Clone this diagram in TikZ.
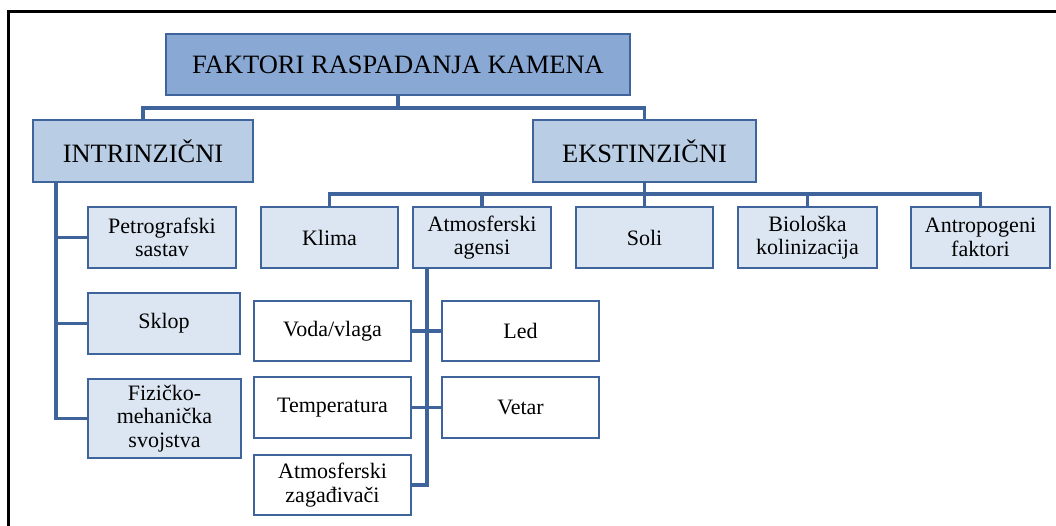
\documentclass[tikz,border=0pt]{standalone}
\usepackage{fontspec}
\setmainfont{Liberation Serif}
\definecolor{bordc}{RGB}{62,100,155}
\definecolor{lvlone}{RGB}{137,168,212}
\definecolor{lvltwo}{RGB}{185,205,229}
\definecolor{lvlthree}{RGB}{220,230,242}
\tikzset{
  box/.style={draw=bordc, line width=2.8pt, align=center, inner sep=0pt, text=black},
  topbox/.style={box, fill=lvlone, font=\fontsize{26.5}{28}\selectfont},
  secbox/.style={box, fill=lvltwo, font=\fontsize{26.5}{28}\selectfont},
  thrbox/.style={box, fill=lvlthree, font=\fontsize{22}{23.5}\selectfont},
  fourbox/.style={box, fill=white, font=\fontsize{22}{23.5}\selectfont},
  conn/.style={draw=bordc, line width=3.2pt},
  frameline/.style={draw=black, line width=3pt}
}
\begin{document}
\begin{tikzpicture}[x=1pt,y=-1pt]
\useasboundingbox (0,0) rectangle (1056,526);
\fill[white] (0,0) rectangle (1056,526);
\draw[frameline] (8,526) -- (8,12) -- (1056,12);

% level 1
\node[topbox, minimum width=464pt, minimum height=61pt] (top) at (398,64.5) {FAKTORI RASPADANJA KAMENA};
% level 2
\node[secbox, minimum width=220pt, minimum height=62pt] (intr) at (143,151) {INTRINZIČNI};
\node[secbox, minimum width=223pt, minimum height=62pt] (ekst) at (644.5,151) {EKSTINZIČNI};
% intrinsic children
\node[thrbox, minimum width=148pt, minimum height=61pt] (petro) at (162,237.5) {Petrografski\\sastav};
\node[thrbox, minimum width=152pt, minimum height=61pt] (sklop) at (164,323.5) {Sklop};
\node[thrbox, minimum width=153pt, minimum height=79pt] (fiz) at (164.5,418.5) {Fizičko-\\mehanička\\svojstva};
% extrinsic children
\node[thrbox, minimum width=137pt, minimum height=61pt] (klima) at (329.5,237.5) {Klima};
\node[thrbox, minimum width=138pt, minimum height=61pt] (atm) at (482,237.5) {Atmosferski\\agensi};
\node[thrbox, minimum width=137pt, minimum height=61pt] (soli) at (644.5,237.5) {Soli};
\node[thrbox, minimum width=139pt, minimum height=61pt] (bio) at (807.5,237.5) {Biološka\\kolinizacija};
\node[thrbox, minimum width=139pt, minimum height=61pt] (antro) at (980.5,237.5) {Antropogeni\\faktori};
% atmospheric agents children
\node[fourbox, minimum width=157pt, minimum height=60pt] (voda) at (332.5,331) {Voda/vlaga};
\node[fourbox, minimum width=157pt, minimum height=61pt] (temp) at (332.5,407.5) {Temperatura};
\node[fourbox, minimum width=157pt, minimum height=60pt] (zag) at (332.5,485) {Atmosferski\\zagađivači};
\node[fourbox, minimum width=157pt, minimum height=60pt] (led) at (520.5,331) {Led};
\node[fourbox, minimum width=157pt, minimum height=61pt] (vetar) at (520.5,407.5) {Vetar};

% connectors level 1 -> 2
\coordinate (topbus) at (0,108);
\draw[conn] (top.south) -- (top.south |- topbus) -| (intr.north);
\draw[conn] (top.south) -- (top.south |- topbus) -| (ekst.north);
% intrinsic bus
\coordinate (ibus) at (56,0);
\draw[conn] (intr.south -| ibus) |- (fiz.west);
\draw[conn] (ibus |- petro.west) -- (petro.west);
\draw[conn] (ibus |- sklop.west) -- (sklop.west);
% extrinsic bus
\coordinate (ebus) at (0,194);
\draw[conn] (ekst.south) -- (ekst.south |- ebus) -| (klima.north);
\draw[conn] (ekst.south |- ebus) -| (atm.north);
\draw[conn] (ekst.south |- ebus) -- (soli.north);
\draw[conn] (ekst.south |- ebus) -| (bio.north);
\draw[conn] (ekst.south |- ebus) -| (antro.north);
% atmospheric bus
\coordinate (abus) at (427,0);
\draw[conn] (atm.south -| abus) |- (zag.east);
\draw[conn] (voda.east) -- (led.west);
\draw[conn] (temp.east) -- (vetar.west);
\end{tikzpicture}
\end{document}
